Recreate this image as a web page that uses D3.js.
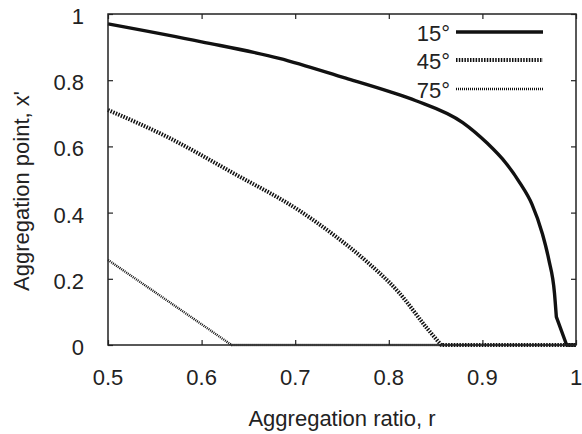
<!DOCTYPE html>
<html>
<head>
<meta charset="utf-8">
<script src="https://cdn.jsdelivr.net/npm/d3@7"></script>
<style>
  html, body { margin: 0; padding: 0; background: #fff; }
  svg { display: block; font-family: "Liberation Sans", Arial, sans-serif; }
</style>
</head>
<body>
<svg id="chart" width="582" height="434"></svg>
<script>
// ---- data ----
const xTicks = [0.5, 0.6, 0.7, 0.8, 0.9, 1];
const xTickLabels = ["0.5", "0.6", "0.7", "0.8", "0.9", "1"];
const yTicks = [0, 0.2, 0.4, 0.6, 0.8, 1];
const yTickLabels = ["0", "0.2", "0.4", "0.6", "0.8", "1"];

const seriesNames = ["15°", "45°", "75°"];

const r15 = [0.5, 0.6, 0.683, 0.754, 0.8, 0.829, 0.879, 0.905, 0.925, 0.94, 0.953, 0.964, 0.971, 0.977, 0.979, 0.99, 1.0];
const x15 = [0.970, 0.916, 0.866, 0.806, 0.766, 0.738, 0.672, 0.610, 0.550, 0.490, 0.425, 0.337, 0.257, 0.157, 0.085, 0.0, 0.0];
const kink15 = 0.979; // sharp corner in the 15° curve

const r45 = [0.5, 0.563, 0.634, 0.705, 0.740, 0.776, 0.811, 0.841, 0.856, 1.0];
const x45 = [0.710, 0.629, 0.519, 0.405, 0.335, 0.253, 0.158, 0.050, 0.0, 0.0];

const r75 = [0.5, 0.55, 0.609, 0.632, 1.0];
const x75 = [0.257, 0.160, 0.045, 0.0, 0.0];

(function () {
  const svg = d3.select("#chart");
  const pL = 108, pR = 576, pT = 14, pB = 345;
  const x = d3.scaleLinear().domain([0.5, 1]).range([pL, pR]);
  const y = d3.scaleLinear().domain([0, 1]).range([pB, pT]);
  const fs = 22;

  const smooth = d3.line().x(d => x(d[0])).y(d => y(d[1])).curve(d3.curveMonotoneX);
  const straight = d3.line().x(d => x(d[0])).y(d => y(d[1]));

  const series = [
    { name: seriesNames[0], r: r15, v: x15, width: 3.4, dash: null, kink: kink15 },
    { name: seriesNames[1], r: r45, v: x45, width: 4, dash: "1.5,1.3", kink: 0.856 },
    { name: seriesNames[2], r: r75, v: x75, width: 2.4, dash: "1,1", kink: 0.632 }
  ];

  const plot = svg.append("g");
  series.forEach(s => {
    const pts = s.r.map((r, i) => [r, s.v[i]]);
    const a = pts.filter(p => p[0] <= s.kink);
    const b = pts.filter(p => p[0] >= s.kink);
    const d = smooth(a) + straight(b).replace(/^M[^L]*/, "L" + x(s.kink) + "," + y(a[a.length - 1][1]));
    plot.append("path")
      .attr("d", d)
      .attr("fill", "none")
      .attr("stroke", "#111")
      .attr("stroke-width", s.width)
      .attr("stroke-dasharray", s.dash)
      .attr("stroke-linejoin", "round");
  });

  svg.append("rect")
    .attr("x", pL).attr("y", pT)
    .attr("width", pR - pL).attr("height", pB - pT)
    .attr("fill", "none").attr("stroke", "#222").attr("stroke-width", 1.5);

  const tl = 5;
  const xb = d3.axisBottom(x).tickValues(xTicks).tickSize(-tl).tickFormat("");
  const xt = d3.axisTop(x).tickValues(xTicks).tickSize(-tl).tickFormat("");
  const yl = d3.axisLeft(y).tickValues(yTicks).tickSize(-tl).tickFormat("");
  const yr = d3.axisRight(y).tickValues(yTicks).tickSize(-tl).tickFormat("");
  [[xb, `translate(0,${pB})`], [xt, `translate(0,${pT})`],
   [yl, `translate(${pL},0)`], [yr, `translate(${pR},0)`]].forEach(([ax, tr]) => {
    const g = svg.append("g").attr("transform", tr).call(ax);
    g.select(".domain").remove();
    g.selectAll("line").attr("stroke", "#222").attr("stroke-width", 1.2);
  });

  svg.append("g").selectAll("text").data(xTicks).join("text")
    .attr("x", d => x(d)).attr("y", 385)
    .attr("text-anchor", "middle").attr("font-size", fs).attr("fill", "#222")
    .text((d, i) => xTickLabels[i]);

  svg.append("g").selectAll("text").data(yTicks).join("text")
    .attr("x", 84).attr("y", d => y(d) + 10)
    .attr("text-anchor", "end").attr("font-size", fs).attr("fill", "#222")
    .text((d, i) => yTickLabels[i]);

  svg.append("text")
    .attr("x", (pL + pR) / 2).attr("y", 426)
    .attr("text-anchor", "middle").attr("font-size", fs).attr("fill", "#222")
    .text("Aggregation ratio, r");

  svg.append("text")
    .attr("transform", `translate(29,191) rotate(-90)`)
    .attr("text-anchor", "middle").attr("font-size", fs).attr("fill", "#222")
    .text("Aggregation point, x'");

  const legY = [32, 60, 89];
  series.forEach((s, i) => {
    svg.append("text")
      .attr("x", 450).attr("y", legY[i] + 9)
      .attr("text-anchor", "end").attr("font-size", fs).attr("fill", "#222")
      .text(s.name);
    svg.append("line")
      .attr("x1", 456).attr("x2", 543)
      .attr("y1", legY[i]).attr("y2", legY[i])
      .attr("stroke", "#111").attr("stroke-width", s.width)
      .attr("stroke-dasharray", s.dash);
  });
})();
</script>
</body>
</html>
